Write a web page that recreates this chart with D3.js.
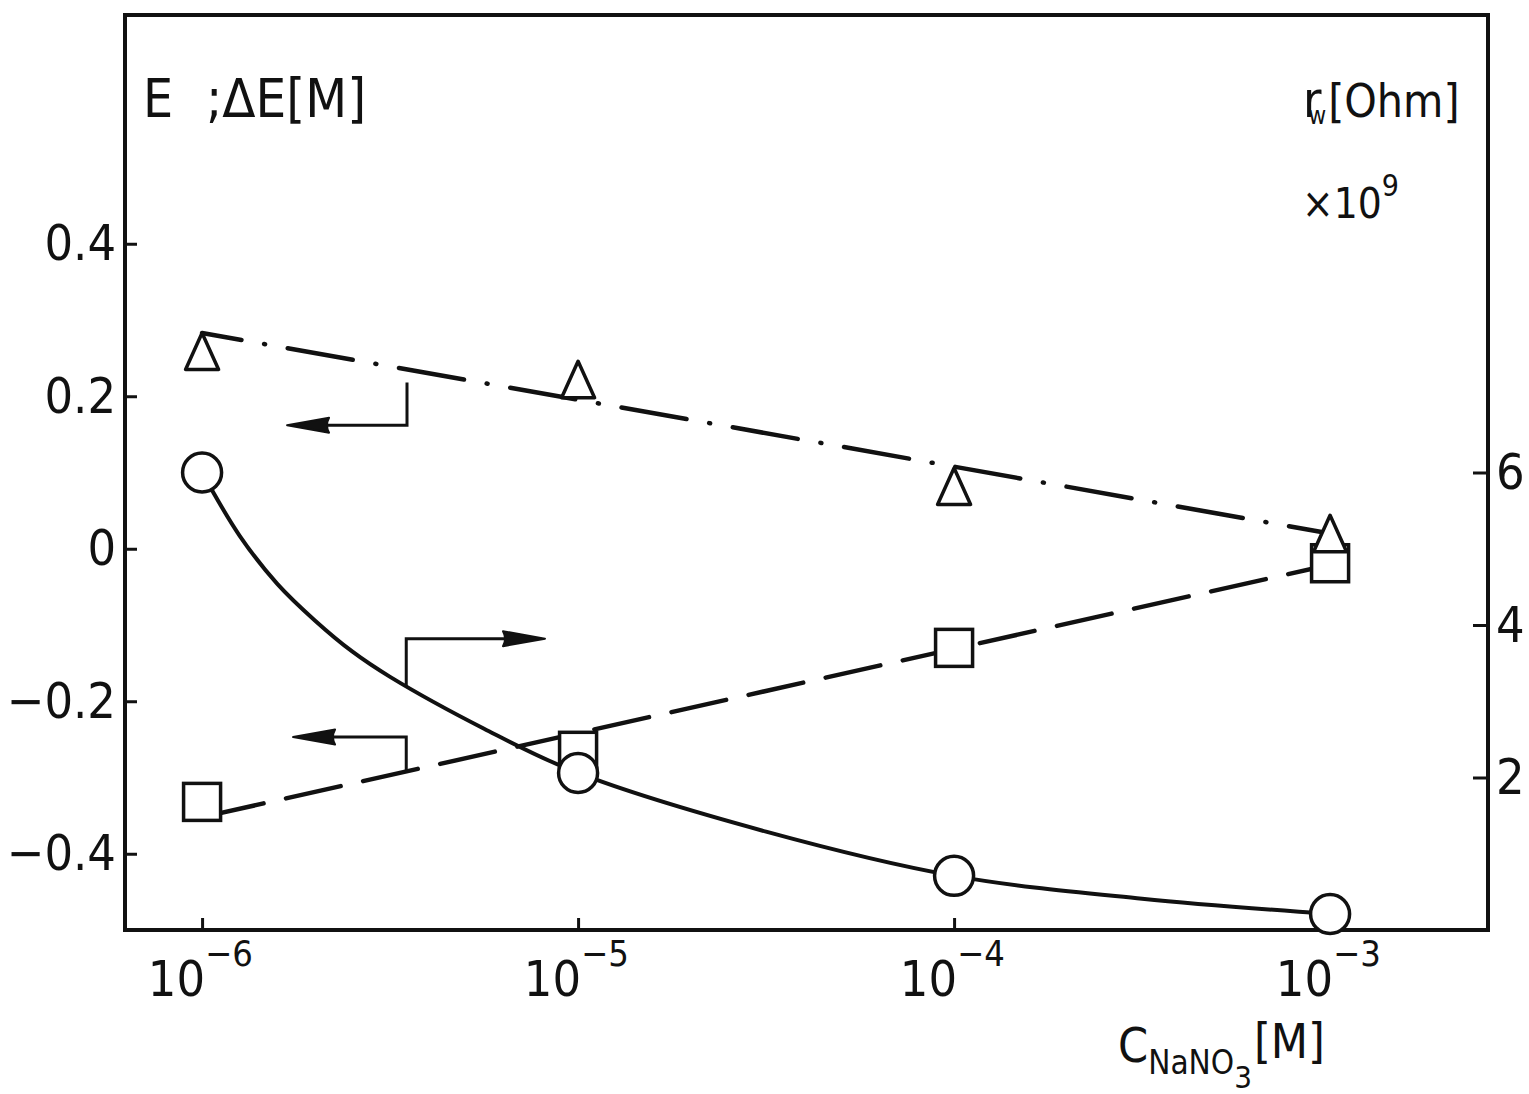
<!DOCTYPE html>
<html>
<head>
<meta charset="utf-8">
<script src="https://cdn.jsdelivr.net/npm/d3@7"></script>
<style>
  html, body { margin: 0; padding: 0; background: #fff; }
  svg { display: block; }
  text { font-family: "DejaVu Sans Condensed", "DejaVu Sans", sans-serif; fill: #111; }
</style>
</head>
<body>
<svg id="chart" width="1529" height="1094"></svg>
<script>
// NaNO3 concentration [M]
const concentrations = [1e-6, 1e-5, 1e-4, 1e-3];
// E (triangles, left axis)
const triangleValues = [0.258, 0.221, 0.081, 0.019];
// ΔE (squares, left axis)
const squareValues = [-0.332, -0.265, -0.130, -0.019];
// r_w ×10^9 Ohm (circles, right axis)
const circleValues = [6.0, 2.06, 0.71, 0.21];

// straight-line fits, values at the two ends of the range
const fitEnds = [1e-6, 1e-3];
const triangleFit = [0.283, 0.020];
const squareFit = [-0.352, -0.021];
// smooth fitted curve through the resistance points
const circleFitConc = [1e-6, 10 ** -5.9, 10 ** -5.8, 10 ** -5.7, 10 ** -5.6, 10 ** -5.5, 10 ** -5.25, 1e-5, 10 ** -4.5, 1e-4, 10 ** -3.5, 1e-3];
const circleFitValues = [6.0, 5.17, 4.54, 4.06, 3.65, 3.32, 2.64, 2.06, 1.29, 0.71, 0.41, 0.21];

// tick labels
const xTickValues = [1e-6, 1e-5, 1e-4, 1e-3];
const xTickExponents = ["−6", "−5", "−4", "−3"];
const leftTickValues = [-0.4, -0.2, 0, 0.2, 0.4];
const leftTickLabels = ["−0.4", "−0.2", "0", "0.2", "0.4"];
const rightTickValues = [2, 4, 6];
const rightTickLabels = ["2", "4", "6"];

// elbow arrows pointing each curve to its axis
const arrowAxes = ["left", "right", "left"];
const arrowAnchorConc = [10 ** -5.455, 10 ** -5.457, 10 ** -5.457];
const arrowAnchorValues = [0.218, 3.19, -0.293];
const arrowElbowValues = [0.162, 3.82, -0.247];
const arrowTipConc = [10 ** -5.774, 10 ** -5.088, 10 ** -5.758];

const svg = d3.select("#chart");
const plotLeft = 125, plotRight = 1488, plotTop = 15, plotBottom = 930;

const x = d3.scaleLog().domain([10 ** -6.205, 10 ** -2.58]).range([plotLeft, plotRight]);
const yL = d3.scaleLinear().domain([-0.5, 0.7]).range([plotBottom, plotTop]);
const yR = d3.scaleLinear().domain([0, 12]).range([plotBottom, plotTop]);

svg.append("rect").attr("width", 1529).attr("height", 1094).attr("fill", "#fff");

// axes
const gL = svg.append("g").attr("transform", `translate(${plotLeft},0)`)
  .call(d3.axisLeft(yL).tickValues(leftTickValues)
    .tickFormat((d, i) => leftTickLabels[i]).tickSize(-12).tickPadding(9));
const gR = svg.append("g").attr("transform", `translate(${plotRight},0)`)
  .call(d3.axisRight(yR).tickValues(rightTickValues)
    .tickFormat((d, i) => rightTickLabels[i]).tickSize(-15).tickPadding(8));
const gB = svg.append("g").attr("transform", `translate(0,${plotBottom})`)
  .call(d3.axisBottom(x).tickValues(xTickValues).tickFormat("").tickSize(-12));

[gL, gR, gB].forEach(g => {
  g.select(".domain").remove();
  g.selectAll(".tick line").attr("stroke", "#111").attr("stroke-width", 3);
  g.selectAll(".tick text").attr("font-size", 50).attr("fill", "#111")
    .attr("font-family", '"DejaVu Sans Condensed", "DejaVu Sans", sans-serif');
});

// x tick labels as 10 with superscript exponent
const xl = svg.append("g");
xTickValues.forEach((v, i) => {
  xl.append("text").attr("x", x(v) + 3).attr("y", 996)
    .attr("text-anchor", "end").attr("font-size", 50).text("10");
  xl.append("text").attr("x", x(v) + 3).attr("y", 966)
    .attr("font-size", 36).text(xTickExponents[i]);
});

// frame
svg.append("rect").attr("x", plotLeft).attr("y", plotTop)
  .attr("width", plotRight - plotLeft).attr("height", plotBottom - plotTop)
  .attr("fill", "none").attr("stroke", "#111").attr("stroke-width", 4);

// fitted lines
const lineL = d3.line().x(d => x(d[0])).y(d => yL(d[1]));
const lineR = d3.line().x(d => x(d[0])).y(d => yR(d[1])).curve(d3.curveCatmullRom.alpha(0.5));

svg.append("path").datum(d3.zip(fitEnds, triangleFit)).attr("d", lineL)
  .attr("fill", "none").attr("stroke", "#111").attr("stroke-width", 4.5)
  .attr("stroke-linecap", "round").attr("stroke-dasharray", "66 23 1 23")
  .attr("stroke-dashoffset", 26);

svg.append("path").datum(d3.zip(fitEnds, squareFit)).attr("d", lineL)
  .attr("fill", "none").attr("stroke", "#111").attr("stroke-width", 4.5)
  .attr("stroke-linecap", "round").attr("stroke-dasharray", "56 23")
  .attr("stroke-dashoffset", 72);

svg.append("path").datum(d3.zip(circleFitConc, circleFitValues)).attr("d", lineR)
  .attr("fill", "none").attr("stroke", "#111").attr("stroke-width", 4);

// markers (squares below triangles)
const mk = svg.append("g").attr("fill", "#fff").attr("stroke", "#111").attr("stroke-width", 3.5);
mk.selectAll(".sq").data(d3.zip(concentrations, squareValues)).join("rect")
  .attr("x", d => x(d[0]) - 18.5).attr("y", d => yL(d[1]) - 18.5)
  .attr("width", 37).attr("height", 37);
mk.selectAll(".tri").data(d3.zip(concentrations, triangleValues)).join("path")
  .attr("transform", d => `translate(${x(d[0])},${yL(d[1])})`)
  .attr("stroke-linejoin", "round")
  .attr("d", "M0,-19L16.5,17.5L-16.5,17.5Z");
mk.selectAll(".ci").data(d3.zip(concentrations, circleValues)).join("circle")
  .attr("cx", d => x(d[0])).attr("cy", d => yR(d[1])).attr("r", 19.5);

// arrows
const ag = svg.append("g");
arrowAxes.forEach((ax, i) => {
  const ys = ax === "left" ? yL : yR;
  const x0 = x(arrowAnchorConc[i]), y0 = ys(arrowAnchorValues[i]);
  const y1 = ys(arrowElbowValues[i]), xt = x(arrowTipConc[i]);
  const dir = Math.sign(xt - x0);
  const headLen = 42;
  ag.append("path")
    .attr("d", `M${x0},${y0}V${y1}H${xt - dir * headLen * 0.6}`)
    .attr("fill", "none").attr("stroke", "#111").attr("stroke-width", 3);
  ag.append("path")
    .attr("d", `M${xt},${y1}L${xt - dir * headLen},${y1 - 7.5}` +
      `Q${xt - dir * headLen * 0.9},${y1} ${xt - dir * headLen},${y1 + 7.5}Z`)
    .attr("fill", "#111").attr("stroke", "#111").attr("stroke-width", 2)
    .attr("stroke-linejoin", "round");
});

// axis titles
svg.append("text").attr("x", 143).attr("y", 117).attr("font-size", 53).text("E");
svg.append("text").attr("x", 206).attr("y", 117).attr("font-size", 54).text(";ΔE[M]");

const tR = svg.append("text").attr("x", 1303).attr("y", 117).attr("font-size", 50);
tR.append("tspan").text("r");
tR.append("tspan").attr("dx", -13).attr("dy", 7).attr("font-size", 24).text("w");
tR.append("tspan").attr("dx", 2).attr("dy", -7).attr("font-size", 46).text("[Ohm]");

const t9 = svg.append("text").attr("x", 1302).attr("y", 218).attr("font-size", 42);
t9.append("tspan").text("×10");
t9.append("tspan").attr("dy", -22).attr("font-size", 30).text("9");

const xTitle = svg.append("text").attr("x", 1118).attr("y", 1062).attr("font-size", 48);
xTitle.append("tspan").text("C");
xTitle.append("tspan").attr("dy", 12).attr("font-size", 33).text("NaNO");
xTitle.append("tspan").attr("dy", 14).attr("font-size", 31).text("3");
xTitle.append("tspan").attr("dx", 2).attr("dy", -30).attr("font-size", 48).text("[M]");
</script>
</body>
</html>
